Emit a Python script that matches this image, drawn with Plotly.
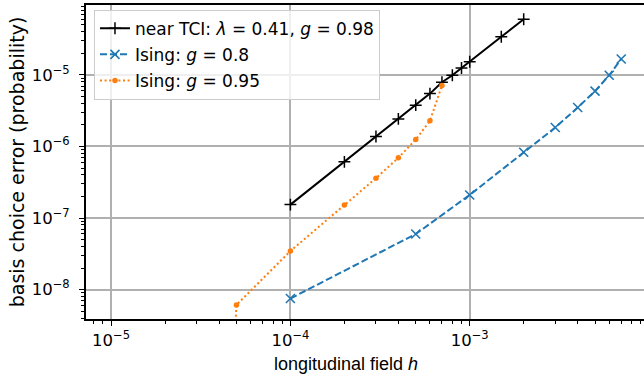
import plotly.graph_objects as go

# near TCI: lambda = 0.41, g = 0.98
h_tci = [1e-4, 2e-4, 3e-4, 4e-4, 5e-4, 6e-4, 7e-4, 8e-4, 9e-4, 1e-3, 1.5e-3, 2e-3]
err_tci = [1.54e-7, 6.1e-7, 1.38e-6, 2.43e-6, 3.78e-6, 5.48e-6, 7.9e-6, 9.9e-6, 1.25e-5, 1.53e-5, 3.42e-5, 6.0e-5]

# Ising g = 0.8
h_g08 = [1e-4, 5e-4, 1e-3, 2e-3, 3e-3, 4e-3, 5e-3, 6e-3, 7e-3]
err_g08 = [7.5e-9, 5.98e-8, 2.1e-7, 8.3e-7, 1.84e-6, 3.5e-6, 5.93e-6, 9.9e-6, 1.67e-5]

# Ising g = 0.95
h_g095 = [4e-5, 5e-5, 1e-4, 2e-4, 3e-4, 4e-4, 5e-4, 6e-4, 7e-4]
err_g095 = [1e-13, 6.1e-9, 3.46e-8, 1.52e-7, 3.6e-7, 6.95e-7, 1.25e-6, 2.28e-6, 7.1e-6]

x_tickvals = [1e-5, 1e-4, 1e-3]
x_ticktext = ["10<sup>\u22125</sup>", "10<sup>\u22124</sup>", "10<sup>\u22123</sup>"]
y_tickvals = [1e-8, 1e-7, 1e-6, 1e-5]
y_ticktext = ["10<sup>\u22128</sup>", "10<sup>\u22127</sup>", "10<sup>\u22126</sup>", "10<sup>\u22125</sup>"]

FONT = "DejaVu Sans"

fig = go.Figure()
fig.add_trace(go.Scatter(
    x=h_tci, y=err_tci, mode="lines+markers",
    name="near TCI: <i>\u03bb</i> = 0.41, <i>g</i> = 0.98",
    line=dict(color="black", width=2),
    marker=dict(symbol="cross-thin", size=8.5, color="black", line=dict(color="black", width=1.5)),
    legendgroup="a",
))
fig.add_trace(go.Scatter(
    x=h_g08, y=err_g08, mode="lines+markers",
    name="Ising: <i>g</i> = 0.8",
    line=dict(color="#1f77b4", width=2, dash="7px,3px"),
    marker=dict(symbol="x-thin", size=9, color="#1f77b4", line=dict(color="#1f77b4", width=1.6)),
    legendgroup="b",
))
fig.add_trace(go.Scatter(
    x=h_g095, y=err_g095, mode="lines+markers",
    name="Ising: <i>g</i> = 0.95",
    line=dict(color="#ff7f0e", width=2, dash="2px,2.6px"),
    marker=dict(symbol="circle", size=5.5, color="#ff7f0e"),
    legendgroup="c",
))

axis_common = dict(
    type="log",
    showgrid=True, gridcolor="#b0b0b0", gridwidth=1.5,
    showline=True, linecolor="black", linewidth=2,
    ticks="outside", ticklen=5, tickwidth=1.3, tickcolor="black",
    tickfont=dict(family=FONT, size=16.5, color="black"),
    tickmode="array",
    minor=dict(ticks="outside", ticklen=3, tickwidth=1, tickcolor="black", showgrid=False, dtick="D1"),
    zeroline=False,
)

fig.update_layout(
    width=644, height=381,
    margin=dict(l=86, r=0, t=5, b=62),
    plot_bgcolor="white", paper_bgcolor="white",
    font=dict(family=FONT, color="black"),
    showlegend=True,
    legend=dict(
        x=0.0143, y=0.985, xanchor="left", yanchor="top",
        bgcolor="rgba(255,255,255,0.8)", bordercolor="#cccccc", borderwidth=1,
        font=dict(family=FONT, size=17, color="black"),
        traceorder="grouped", tracegroupgap=1,
    ),
    xaxis=dict(
        **axis_common,
        range=[-5.14, -2.028],
        tickvals=x_tickvals, ticktext=x_ticktext,
        mirror=True,
    ),
    yaxis=dict(
        **axis_common,
        range=[-8.411, -4.023],
        tickvals=y_tickvals, ticktext=y_ticktext,
        ticklabelstandoff=6,
        title=dict(text="basis choice error (probability)", font=dict(family=FONT, size=19), standoff=2),
    ),
    annotations=[dict(
        text="longitudinal field <i>h</i>",
        xref="paper", yref="paper", x=0.466, y=-0.142,
        xanchor="center", yanchor="middle", showarrow=False,
        font=dict(family="Liberation Sans", size=18, color="black"),
    )],
)

fig.write_html("out.html")
